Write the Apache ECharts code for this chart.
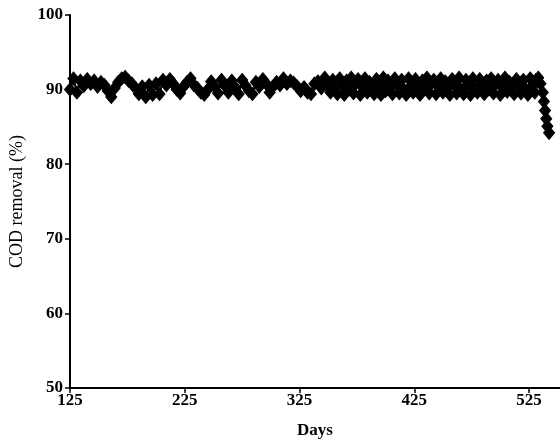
<!DOCTYPE html>
<html>
<head>
<meta charset="utf-8">
<script src="https://cdn.jsdelivr.net/npm/echarts@6/dist/echarts.min.js"></script>
<style>html,body{margin:0;padding:0;background:#fff}#c{width:560px;height:444px}</style>
</head>
<body>
<div id="c"></div>
<script>
// early period, sampled every 3 days
const daysEarly = [
125,128,131,134,137,140,143,146,149,152,155,158,161,164,167,170,173,176,179,182,
185,188,191,194,197,200,203,206,209,212,215,218,221,224,227,230,233,236,239,242,
245,248,251,254,257,260,263,266,269,272,275,278,281,284,287,290,293,296,299,302,
305,308,311,314,317,320,323,326,329,332,335,338,341,344,347,350
];
const codEarly = [
90.0,91.5,89.6,91.2,90.5,91.4,90.8,91.2,90.4,91.0,90.6,89.8,89.0,90.2,91.0,91.5,91.7,91.2,90.8,90.2,
89.4,90.4,89.0,90.6,89.3,90.8,89.4,91.3,90.6,91.4,90.8,90.0,89.5,90.4,91.0,91.5,90.6,90.2,89.6,89.3,
90.0,91.1,90.4,89.5,91.3,90.5,89.6,91.2,90.3,89.4,91.3,90.5,89.8,89.4,91.0,90.4,91.4,90.8,89.6,90.4,
91.0,90.6,91.5,90.8,91.2,90.9,90.4,89.8,90.3,89.6,89.4,90.8,91.1,90.2,91.6,90.4
];
// later period, sampled every 2 days
const daysLate = [
352,354,356,358,360,362,364,366,368,370,372,374,376,378,380,382,384,386,388,390,
392,394,396,398,400,402,404,406,408,410,412,414,416,418,420,422,424,426,428,430,
432,434,436,438,440,442,444,446,448,450,452,454,456,458,460,462,464,466,468,470,
472,474,476,478,480,482,484,486,488,490,492,494,496,498,500,502,504,506,508,510,
512,514,516,518,520,522,524,526,528,530,531
];
const codLate = [
89.6,91.3,90.2,89.4,91.5,90.6,89.3,91.2,90.0,91.6,89.5,90.8,91.4,89.3,90.4,91.5,89.6,91.0,90.2,89.4,
91.4,90.5,89.3,91.6,89.8,91.2,90.3,89.4,91.5,90.7,89.5,91.3,90.0,89.3,91.5,90.4,89.6,91.4,90.6,89.3,
91.2,90.1,91.6,89.5,90.8,91.3,89.4,90.5,91.5,89.6,91.1,90.2,89.3,91.4,90.6,89.5,91.6,90.0,89.4,91.3,
90.7,89.3,91.5,90.2,89.6,91.4,90.5,89.4,91.2,90.0,91.5,89.5,90.7,91.3,89.3,90.4,91.6,89.7,91.0,90.3,
89.4,91.4,90.6,89.5,91.3,90.1,89.3,91.5,90.4,89.6,91.3
];
// final decline
const daysEnd = [533,535,537,538,539,540,541,542.5];
const codEnd = [91.6,90.8,89.6,88.4,87.2,86.1,85.1,84.2];

const xTicks = [125,225,325,425,525];
const yTicks = [50,60,70,80,90,100];

const days = daysEarly.concat(daysLate, daysEnd);
const codRemoval = codEarly.concat(codLate, codEnd);

const font = 'Liberation Serif';
const chart = echarts.init(document.getElementById('c'), null, {renderer:'canvas'});
chart.setOption({
  animation:false,
  backgroundColor:'#fff',
  grid:{left:70, right:0, top:15, bottom:55, containLabel:false},
  xAxis:{
    type:'value', min:125, max:552,
    name:'Days', nameLocation:'middle', nameGap:34,
    nameTextStyle:{fontFamily:font, fontSize:17, fontWeight:'bold', color:'#000'},
    axisLine:{show:true, lineStyle:{color:'#000', width:2}},
    axisTick:{show:true, length:5, customValues:xTicks, lineStyle:{color:'#000', width:1.5}},
    axisLabel:{customValues:xTicks, fontFamily:font, fontSize:17, fontWeight:'bold', color:'#000', margin:4},
    splitLine:{show:false}
  },
  yAxis:{
    type:'value', min:50, max:100, interval:10,
    name:'COD removal (%)', nameLocation:'middle', nameGap:35,
    nameTextStyle:{fontFamily:font, fontSize:18, color:'#000'},
    axisLine:{show:true, lineStyle:{color:'#000', width:2}},
    axisTick:{show:true, length:5, customValues:yTicks, lineStyle:{color:'#000', width:1.5}},
    axisLabel:{customValues:yTicks, fontFamily:font, fontSize:17, fontWeight:'bold', color:'#000', margin:7},
    splitLine:{show:false}
  },
  series:[{
    type:'line',
    data:days.map((d,i)=>[d,codRemoval[i]]),
    symbol:'diamond', symbolSize:[11,13],
    showAllSymbol:true,
    itemStyle:{color:'#000', borderColor:'#000'},
    lineStyle:{color:'#000', width:2},
    clip:false
  }]
});
</script>
</body>
</html>
